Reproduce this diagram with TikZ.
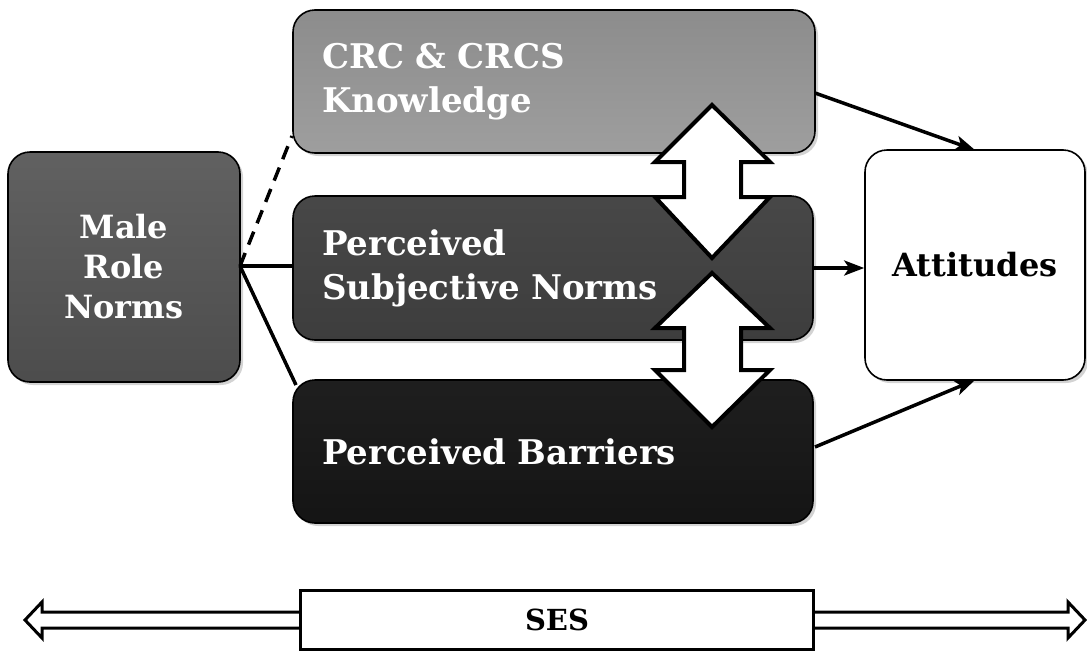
\documentclass[tikz,border=0pt]{standalone}
\usepackage{fontspec}
\setmainfont{DejaVu Serif}
\usetikzlibrary{arrows.meta,shadows}
\begin{document}
\begin{tikzpicture}[x=1pt,y=-1pt,
  box/.style={draw=black,line width=1.6pt,rounded corners=22pt,text=white,inner sep=0pt,
    drop shadow={opacity=0.35,shadow xshift=3pt,shadow yshift=-3pt}},
  bigtxt/.style={font=\bfseries\fontsize{34}{44}\selectfont},
  midtxt/.style={font=\bfseries\fontsize{32}{40}\selectfont},
  conn/.style={line width=3.5pt,-{Stealth[length=20pt,width=15pt,inset=5pt]}},
  dbl/.style={draw=black,line width=4pt,fill=white,line join=miter},
]
\useasboundingbox (0,0) rectangle (1087,651);
% boxes
\node[box,bigtxt,top color=black!45,bottom color=black!38,
      minimum width=522pt,minimum height=143pt,text width=464pt,align=left]
  (crc) at (554,81.5) {CRC \& CRCS\\Knowledge};
\node[box,bigtxt,top color=black!72,bottom color=black!76,
      minimum width=520pt,minimum height=144pt,text width=462pt,align=left]
  (psn) at (553,268) {Perceived\\Subjective Norms};
\node[box,bigtxt,top color=black!88,bottom color=black!92,
      minimum width=520pt,minimum height=143pt,text width=462pt,align=left]
  (pb) at (553,451.5) {Perceived Barriers};
\node[box,midtxt,top color=black!62,bottom color=black!70,
      minimum width=232pt,minimum height=230pt,align=center]
  (mrn) at (124,267) {Male\\Role\\Norms};
\node[box,midtxt,fill=white,text=black,
      minimum width=220pt,minimum height=230pt,align=center]
  (att) at (975,265) {Attitudes};
% connection points
\coordinate (m) at (240,266);
\coordinate (crcA) at (292,136);
\coordinate (pbA) at (296,385);
\coordinate (crcB) at (815,93);
\coordinate (attA) at (975,150);
\coordinate (pbB) at (815,447);
\coordinate (attB) at (975,380);
\draw[line width=3.5pt,dash pattern=on 14pt off 9pt] (m) -- (crcA);
\draw[line width=3.5pt] (m) -- (psn.west |- m);
\draw[line width=3.5pt] (m) -- (pbA);
\draw[conn] (crcB) -- (attA);
\draw[conn] (psn.east) -- (att.west |- psn.east);
\draw[conn] (pbB) -- (attB);
% double arrows between boxes
\draw[dbl] (712,105) -- (770,162) -- (741,162) -- (741,197) -- (770,197) -- (712,258)
  -- (655,197) -- (684,197) -- (684,162) -- (655,162) -- cycle;
\draw[dbl] (712,273) -- (770,328) -- (741,328) -- (741,370) -- (770,370) -- (712,427)
  -- (655,370) -- (684,370) -- (684,328) -- (655,328) -- cycle;
% SES
\draw[line width=3pt,fill=white,line join=miter] (42,612) -- (42,602) -- (25,620) -- (42,638) -- (42,628)
  -- (1068,628) -- (1068,638) -- (1085,620) -- (1068,602) -- (1068,612) -- cycle;
\node[draw=black,line width=3pt,fill=white,minimum width=513pt,minimum height=59pt,
      font=\bfseries\fontsize{29}{34}\selectfont] (ses) at (557,620) {SES};
\end{tikzpicture}
\end{document}
